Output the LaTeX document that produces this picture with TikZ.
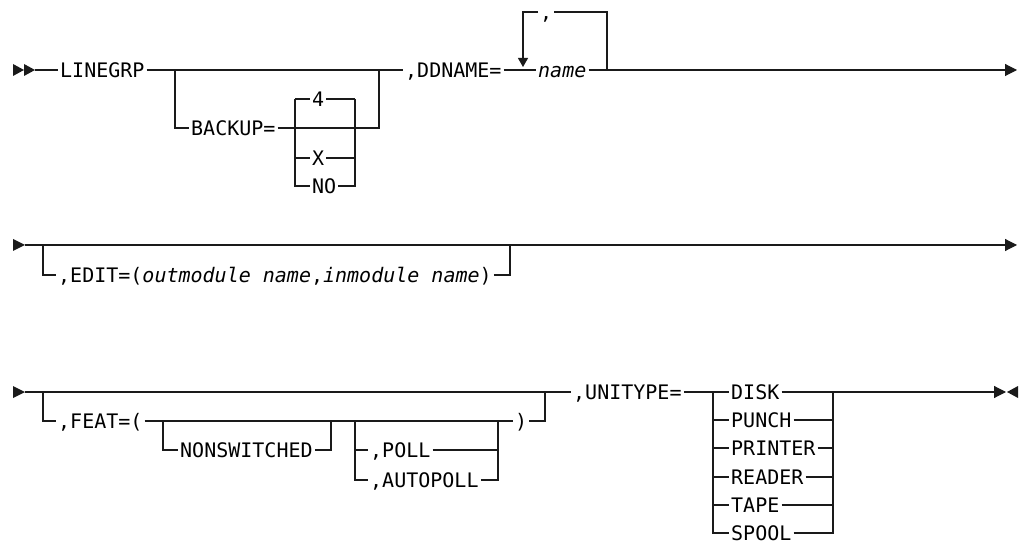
\documentclass[tikz,border=0pt]{standalone}
\usepackage{fontspec}
\setmonofont{DejaVu Sans Mono}
\usepackage{tikz}
\usetikzlibrary{arrows.meta}
\definecolor{Rail}{HTML}{1A1A1A}
\newcommand{\rrfont}{\ttfamily\fontsize{20bp}{24bp}\selectfont}
\tikzset{kw/.style={font=\rrfont,anchor=west,inner xsep=2bp,inner ysep=0pt,text height=14.5bp,text depth=0pt},rail/.style={line width=1.1bp,draw=Rail},endtip/.style={-{Triangle[length=12bp,width=12bp]}},tipfill/.style={fill=Rail}}

\begin{document}
\begin{tikzpicture}[x=1bp,y=-1bp]
        \useasboundingbox (0,0) rectangle (1022,544);
        \coordinate (r1s) at (35,70);
        \coordinate (r1e) at (1017,70);
        \coordinate (j1a) at (175,70);
        \coordinate (j1b) at (379,70);
        \coordinate (c4l) at (295,99);
        \coordinate (c4r) at (355,99);
        \coordinate (lpt) at (523,67);
        \coordinate (lp2) at (607,70);
        \node[kw] (linegrp) at (58,70) {LINEGRP};
        \node[kw] (backup) at (189,128) {BACKUP=};
        \node[kw] (b4) at (310,99) {4};
        \node[kw] (bx) at (310,158) {X};
        \node[kw] (bno) at (310,186) {NO};
        \node[kw] (ddname) at (403,70) {,DDNAME=};
        \node[kw,font=\rrfont\itshape] (name) at (536,70) {name};
        \node[kw] (sep) at (538,12) {,};
        \foreach \x in {13,24}
          \fill[tipfill] (\x,64) -- ++(11,6) -- ++(-11,6) -- cycle;
        \draw[rail] (r1s) -- (linegrp.west);
        \draw[rail] (linegrp.east) -- (ddname.west);
        \draw[rail] (j1a) |- (backup.west);
        \draw[rail] (backup.east) -| (j1b);
        \draw[rail] (c4l) -- (b4.west);
        \draw[rail] (b4.east) -- (c4r);
        \draw[rail] (c4l |- bx.west) -- (bx.west);
        \draw[rail] (bx.east) -- (c4r |- bx.east);
        \draw[rail] (c4l) |- (bno.west);
        \draw[rail] (c4r) |- (bno.east);
        \draw[rail] (ddname.east) -- (name.west);
        \draw[rail,-{Triangle[length=9bp,width=10bp]}] (sep.west) -| (lpt);
        \draw[rail] (sep.east) -| (lp2);
        \draw[rail,endtip] (name.east) -- (r1e);

        \coordinate (r2s) at (25,245);
        \coordinate (r2e) at (1017,245);
        \coordinate (j2a) at (43,245);
        \coordinate (j2b) at (510,245);
        \node[kw] (edit) at (56,275) {,EDIT=(\textit{outmodule name},\textit{inmodule name})};
        \fill[tipfill] (13,239) -- ++(12,6) -- ++(-12,6) -- cycle;
        \draw[rail,endtip] (r2s) -- (r2e);
        \draw[rail] (j2a) |- (edit.west);
        \draw[rail] (edit.east) -| (j2b);

        \coordinate (r3s) at (25,392);
        \coordinate (r3e) at (1006,392);
        \coordinate (j3a) at (43,392);
        \coordinate (j3b) at (545,392);
        \coordinate (ns1) at (163,421);
        \coordinate (ns2) at (331,421);
        \coordinate (pl1) at (355,421);
        \coordinate (pl2) at (498,421);
        \coordinate (ul) at (713,392);
        \coordinate (ur) at (833,392);
        \node[kw] (feat) at (56,421) {,FEAT=(};
        \node[kw] (nonsw) at (178,450) {NONSWITCHED};
        \node[kw] (poll) at (368,450) {,POLL};
        \node[kw] (apoll) at (368,480) {,AUTOPOLL};
        \node[kw] (rpar) at (513,421) {)};
        \node[kw] (unitype) at (571,392) {,UNITYPE=};
        \foreach \t/\y [count=\i] in {DISK/392,PUNCH/420,PRINTER/448,READER/477,TAPE/505,SPOOL/533}
          \node[kw] (u\i) at (729,\y) {\t};
        \fill[tipfill] (13,386) -- ++(12,6) -- ++(-12,6) -- cycle;
        \draw[rail] (r3s) -- (unitype.west);
        \draw[rail] (j3a) |- (feat.west);
        \draw[rail] (feat.east) -- (rpar.west);
        \draw[rail] (rpar.east) -| (j3b);
        \draw[rail] (ns1) |- (nonsw.west);
        \draw[rail] (nonsw.east) -| (ns2);
        \draw[rail] (pl1) |- (apoll.west);
        \draw[rail] (pl1 |- poll.west) -- (poll.west);
        \draw[rail] (poll.east) -- (pl2 |- poll.east);
        \draw[rail] (apoll.east) -| (pl2);
        \draw[rail] (unitype.east) -- (u1.west);
        \draw[rail] (ul) |- (u6.west);
        \foreach \i in {2,...,5}
          \draw[rail] (ul |- u\i.west) -- (u\i.west);
        \draw[rail] (u6.east) -| (ur);
        \foreach \i in {1,...,5}
          \draw[rail] (u\i.east) -- (ur |- u\i.east);
        \draw[rail,endtip] (ur) -- (r3e);
        \fill[tipfill] (1018,386) -- ++(-11,6) -- ++(11,6) -- cycle;
      \end{tikzpicture}
\end{document}
